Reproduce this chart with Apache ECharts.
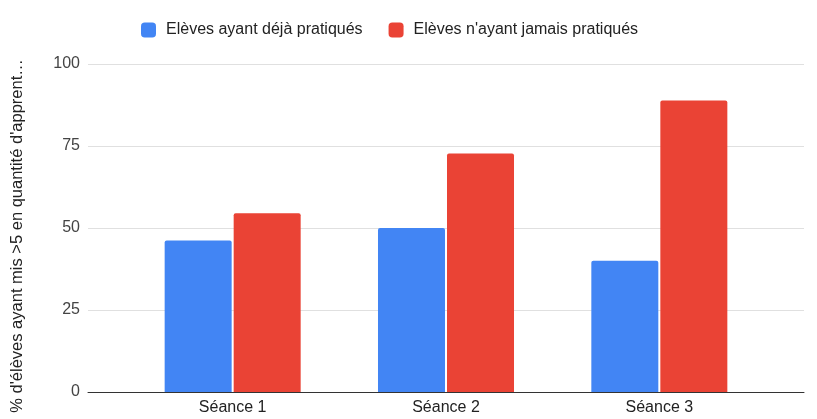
<!DOCTYPE html>
<html>
<head>
<meta charset="utf-8">
<script src="https://cdn.jsdelivr.net/npm/echarts@6/dist/echarts.min.js"></script>
<style>
html,body{margin:0;padding:0;background:#fff;}
#c{width:817px;height:419px;}
</style>
</head>
<body>
<div id="c"></div>
<script>
const categories = ['Séance 1', 'Séance 2', 'Séance 3'];
const seriesNames = ['Elèves ayant déjà pratiqués', "Elèves n'ayant jamais pratiqués"];
const practiced = [46.2, 50, 40];
const neverPracticed = [54.5, 72.7, 88.9];
const yTicks = [0, 25, 50, 75, 100];
const yAxisTitle = "% d'élèves ayant mis >5 en quantité d'apprent…";

const FONT = '"Liberation Sans", Arial, sans-serif';
const chart = echarts.init(document.getElementById('c'), null, {renderer: 'canvas'});
chart.setOption({
  animation: false,
  textStyle: {fontFamily: FONT},
  legend: {
    top: 17,
    left: 136,
    itemWidth: 15,
    itemHeight: 15,
    itemGap: 26,
    icon: 'roundRect',
    textStyle: {fontSize: 16, color: '#222', fontFamily: FONT, padding: [0, 0, 0, 5]},
    data: seriesNames
  },
  grid: [
    {left: 88, right: 13, top: 64, bottom: 27},
    {left: 126, right: 51, top: 64, bottom: 27}
  ],
  xAxis: [
    {
      gridIndex: 0, type: 'value', min: 0, max: 1,
      axisLine: {show: true, onZero: false, lineStyle: {color: '#333', width: 1}},
      axisTick: {show: false}, axisLabel: {show: false}, splitLine: {show: false}, z: 10
    },
    {
      gridIndex: 1, type: 'category', data: categories,
      axisLine: {show: false}, axisTick: {show: false},
      axisLabel: {fontSize: 16, color: '#222', margin: 8, fontFamily: FONT}
    }
  ],
  yAxis: [
    {
      gridIndex: 0, type: 'value', min: yTicks[0], max: yTicks[yTicks.length - 1], interval: 25,
      axisLine: {show: false}, axisTick: {show: false},
      axisLabel: {fontSize: 16, color: '#444', margin: 8, fontFamily: FONT},
      splitLine: {lineStyle: {color: '#e0e0e0', width: 1}},
      name: yAxisTitle,
      nameLocation: 'middle',
      nameRotate: 90,
      nameGap: 62,
      nameTextStyle: {fontSize: 16.5, color: '#222', fontFamily: FONT, padding: [0, 16, 0, 0]}
    },
    {
      gridIndex: 1, type: 'value', min: 0, max: 100, show: false
    }
  ],
  series: [
    {
      name: seriesNames[0], type: 'bar', xAxisIndex: 1, yAxisIndex: 1,
      data: practiced, barWidth: 67, barGap: '3%',
      itemStyle: {color: '#4285F4', borderRadius: [2, 2, 0, 0]}
    },
    {
      name: seriesNames[1], type: 'bar', xAxisIndex: 1, yAxisIndex: 1,
      data: neverPracticed, barWidth: 67, barGap: '3%',
      itemStyle: {color: '#EA4335', borderRadius: [2, 2, 0, 0]}
    }
  ]
});
</script>
</body>
</html>
